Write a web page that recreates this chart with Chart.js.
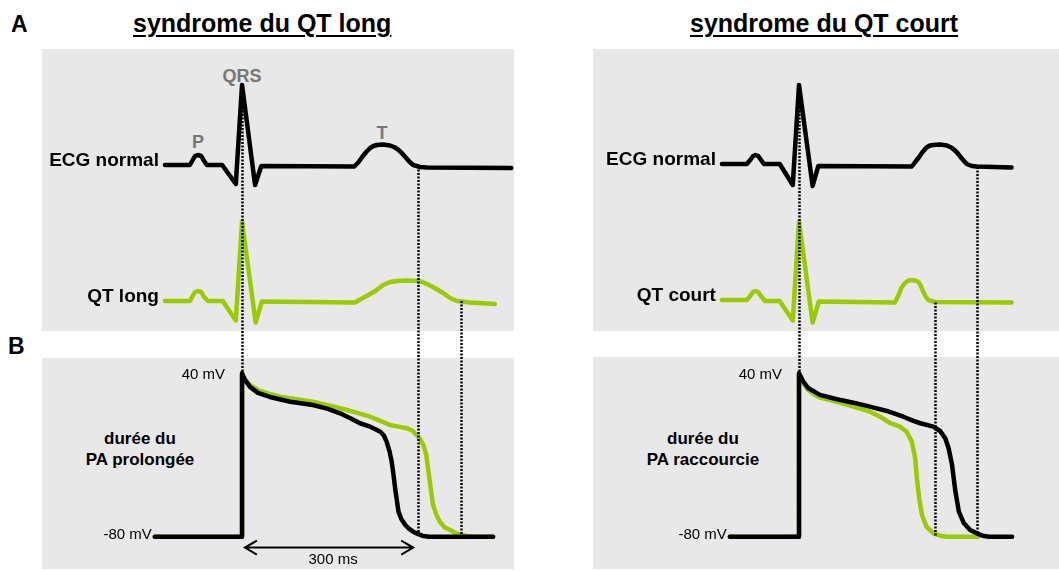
<!DOCTYPE html>
<html>
<head>
<meta charset="utf-8">
<script src="https://cdn.jsdelivr.net/npm/chart.js@4.4.1/dist/chart.umd.min.js"></script>
<style>
body{margin:0;background:#fff;width:1059px;height:571px;position:relative;overflow:hidden;font-family:"Liberation Sans",Arial,sans-serif}
.panel{position:absolute;background:#e8e8e8}
.t{position:absolute;white-space:nowrap;color:#000;font-weight:bold}
.title{font-size:25px;line-height:25px;text-decoration:underline;text-decoration-thickness:2px;text-underline-offset:3px}
.wave{color:#777;font-size:18px;line-height:18px;transform:translateX(-50%)}
.pa{font-size:17px;line-height:21px;text-align:center;width:200px}
canvas{position:absolute;top:0}
</style>
</head>
<body>
<div class="panel" style="left:42px;top:49px;width:472px;height:282px"></div>
<div class="panel" style="left:42px;top:358px;width:472px;height:211px"></div>
<div class="panel" style="left:593px;top:49px;width:466px;height:282px"></div>
<div class="panel" style="left:593px;top:357px;width:466px;height:212px"></div>

<div class="t" style="left:11px;top:13px;font-size:23px;line-height:23px">A</div>
<div class="t" style="left:8px;top:335px;font-size:23px;line-height:23px">B</div>
<div class="t title" style="left:133px;top:11px">syndrome du QT long</div>
<div class="t title" style="left:690px;top:11px">syndrome du QT court</div>
<div class="t wave" style="left:242px;top:67px">QRS</div>
<div class="t wave" style="left:198px;top:133px">P</div>
<div class="t wave" style="left:382px;top:124px">T</div>
<div class="t pa" style="left:40px;top:428px">durée du<br>PA prolongée</div>
<div class="t pa" style="left:603px;top:428px">durée du<br>PA raccourcie</div>

<canvas id="left" width="530" height="571" style="left:0"></canvas>
<canvas id="right" width="529" height="571" style="left:530px"></canvas>

<script>
// time in ms (0 = QRS peak), ECG in mV above its baseline, PA in mV
const ecgNormalLong = [[-136,0],[-92,0],[-88,0.08],[-83,0.18],[-78,0.2],[-72,0.18],[-67,0.08],[-62,0],[-35,0],[-11,-0.38],[0,1.6],[23,-0.4],[34,-0.02],[198,-0.03],[205,0.05],[212,0.16],[219,0.26],[226,0.34],[232,0.38],[238,0.4],[249,0.41],[261,0.39],[268,0.36],[274,0.32],[281,0.25],[288,0.16],[295,0.07],[302,0],[314,-0.04],[326,-0.05],[475,-0.06]];
const ecgQtLong = [[-136,0],[-92,0],[-88,0.08],[-83,0.18],[-78,0.2],[-72,0.18],[-67,0.08],[-60,0],[-34,0],[-11,-0.39],[0,1.59],[24,-0.43],[35,-0.01],[199,-0.03],[210,0.04],[220,0.1],[235,0.2],[249,0.32],[261,0.38],[274,0.4],[291,0.41],[309,0.4],[318,0.38],[326,0.34],[340,0.26],[355,0.16],[367,0.06],[379,0],[402,-0.03],[446,-0.06]];
const paNormalLong = [[-154,-80],[0,-80],[0,40],[5,35.1],[14,30],[28,25.6],[49,22.6],[85,19.1],[125,16.7],[150,14],[173,10.6],[191,7],[208,3.3],[226,0.8],[244,-2.9],[250,-5.5],[255,-10.2],[260,-17],[264,-24.9],[267,-34],[270,-44.2],[273,-53],[276,-61.6],[281,-67],[288,-71.4],[295,-74.3],[302,-76.3],[311,-78.2],[320,-79.5],[330,-80],[443,-80]];
const paLong = [[-154,-80],[0,-80],[0,40],[5,35.8],[14,31.4],[28,27.7],[49,24.8],[67,22.8],[96,21],[125,19.1],[155,16.2],[185,13],[206,10.5],[226,8.1],[244,5],[261,2],[276,0.8],[291,-0.4],[300,-2],[308,-5.3],[315,-9],[320,-12.7],[325,-20],[329,-32.3],[333,-45],[337,-56.7],[343,-64],[349,-69],[357,-73],[367,-75.1],[377,-77.5],[388,-78.8],[402,-80],[443,-80]];

const ecgNormalCourt = [[-136,0.02],[-92,0.02],[-86,0.1],[-81,0.18],[-77,0.2],[-72,0.18],[-67,0.1],[-62,0.02],[-34,0.02],[-11,-0.4],[0,1.6],[24,-0.42],[34,-0.02],[199,-0.03],[205,0.06],[212,0.16],[218,0.26],[225,0.35],[231,0.39],[237,0.4],[249,0.41],[261,0.39],[270,0.34],[278,0.26],[288,0.12],[296,0.02],[305,-0.02],[314,-0.03],[375,-0.05]];
const ecgQtCourt = [[-136,0.02],[-92,0.02],[-86,0.1],[-81,0.18],[-77,0.2],[-72,0.18],[-67,0.1],[-60,0],[-34,0],[-11,-0.39],[0,1.59],[24,-0.43],[35,-0.01],[169,-0.03],[175,0.1],[181,0.27],[187,0.36],[193,0.41],[199,0.42],[205,0.41],[211,0.38],[215,0.3],[219,0.19],[224,0.08],[228,0.02],[240,-0.02],[375,-0.03]];
const paNormalCourt = [[-122,-80],[0,-80],[0,40],[7,34.3],[16,29.2],[28,26.3],[37,24.1],[67,20.9],[96,18.4],[125,15.5],[155,12.3],[184,8.1],[202,5],[214,3.3],[237,0.8],[249,-2.4],[258,-7.7],[264,-15.1],[270,-27.3],[276,-47],[282,-61.6],[291,-70.2],[302,-75.1],[317,-78.2],[326,-79.5],[336,-80],[376,-80]];
const paCourt = [[-122,-80],[0,-80],[0,40],[7,32.9],[16,27.7],[28,24.1],[37,22.1],[67,19.1],[96,15.5],[125,11.8],[143,8.1],[161,3.3],[178,0.8],[190,-2.9],[199,-10.2],[205,-22.4],[208,-37.1],[212,-51.8],[217,-64.1],[225,-72.7],[237,-77.5],[249,-79.3],[261,-80],[316,-80]];

const apTicks = [40, -80];
const apTickLabels = ['40 mV', '-80 mV'];

// dotted guides: time, top lane + value, bottom PA value
const markersLong = [[0,'yN',1.3,40],[310,'yN',-0.02,-80],[386,'yQ',0,-80]];
const markersCourt = [[0,'yN',1.3,40],[314,'yN',-0.04,-79],[240,'yQ',-0.03,-80]];
const durationArrow = [5, 302];
const durationLabel = '300 ms';

const GREEN = '#99cc00';
const FONT = '"Liberation Sans", Arial, sans-serif';

const overlay = {
    id: 'overlay',
    afterDatasetsDraw(chart, args, opts) {
        const ctx = chart.ctx;
        const x = chart.scales.x, ap = chart.scales.yAP;
        ctx.save();
        // trace names
        ctx.fillStyle = '#000';
        ctx.textAlign = 'right';
        ctx.textBaseline = 'middle';
        ctx.font = 'bold 19px ' + FONT;
        chart.data.datasets.forEach(ds => {
            if (!ds.tag) return;
            const p = ds.data[0];
            ctx.fillText(ds.tag, x.getPixelForValue(p[0]) - 6, chart.scales[ds.yAxisID].getPixelForValue(p[1]) - 4);
        });
        // PA ticks
        ctx.font = '15px ' + FONT;
        ctx.fillText(apTickLabels[0], x.getPixelForValue(0) - 17, ap.getPixelForValue(apTicks[0]) + 2);
        ctx.fillText(apTickLabels[1], x.getPixelForValue(opts.paStart) - 3, ap.getPixelForValue(apTicks[1]) - 2);
        // dotted guides
        ctx.strokeStyle = '#000';
        ctx.lineWidth = 2.5;
        ctx.setLineDash([2, 1.5]);
        opts.markers.forEach(m => {
            const px = Math.round(x.getPixelForValue(m[0])) + 0.5;
            ctx.beginPath();
            ctx.moveTo(px, chart.scales[m[1]].getPixelForValue(m[2]));
            ctx.lineTo(px, ap.getPixelForValue(m[3]));
            ctx.stroke();
        });
        ctx.setLineDash([]);
        // duration arrow
        if (opts.arrow) {
            const x1 = x.getPixelForValue(durationArrow[0]), x2 = x.getPixelForValue(durationArrow[1]);
            const y = ap.getPixelForValue(-88);
            ctx.lineWidth = 2;
            ctx.beginPath();
            ctx.moveTo(x1, y); ctx.lineTo(x2, y);
            ctx.moveTo(x1 + 12, y - 7); ctx.lineTo(x1, y); ctx.lineTo(x1 + 12, y + 7);
            ctx.moveTo(x2 - 12, y - 7); ctx.lineTo(x2, y); ctx.lineTo(x2 - 12, y + 7);
            ctx.stroke();
            ctx.textAlign = 'center';
            ctx.font = '15px ' + FONT;
            ctx.fillText(durationLabel, (x1 + x2) / 2 + 4, y + 12);
        }
        ctx.restore();
    }
};

function line(data, color, width, axis, tag) {
    return {
        data: data, tag: tag, yAxisID: axis,
        borderColor: color, borderWidth: width,
        pointRadius: 0, tension: 0, fill: false,
        borderJoinStyle: 'round', borderCapStyle: 'round', clip: false
    };
}

function makeChart(id, xmin, xmax, datasets, extra) {
    new Chart(document.getElementById(id), {
        type: 'line',
        data: { datasets: datasets },
        options: {
            responsive: false,
            animation: false,
            events: [],
            layout: { padding: 0 },
            scales: {
                x: { type: 'linear', display: false, min: xmin, max: xmax },
                yN: { type: 'linear', display: false, min: -8.12, max: 3.3 },
                yQ: { type: 'linear', display: false, min: -5.4, max: 6.02 },
                yAP: { type: 'linear', display: false, min: -105.2, max: 314.1 }
            },
            plugins: { legend: { display: false }, tooltip: { enabled: false }, overlay: extra }
        },
        plugins: [overlay]
    });
}

// Chart.js paints the first dataset last, so the black PA trace is listed first to sit on top
makeChart('left', -427, 508, [
    line(ecgNormalLong, '#000', 4.5, 'yN', 'ECG normal'),
    line(ecgQtLong, GREEN, 4.5, 'yQ', 'QT long'),
    line(paNormalLong, '#000', 4.5, 'yAP'),
    line(paLong, GREEN, 4.5, 'yAP')
], { markers: markersLong, paStart: paLong[0][0], arrow: true });

makeChart('right', -474.6, 458.7, [
    line(ecgNormalCourt, '#000', 4.5, 'yN', 'ECG normal'),
    line(ecgQtCourt, GREEN, 4.5, 'yQ', 'QT court'),
    line(paNormalCourt, '#000', 4.5, 'yAP'),
    line(paCourt, GREEN, 4.5, 'yAP')
], { markers: markersCourt, paStart: paCourt[0][0], arrow: false });
</script>
</body>
</html>
